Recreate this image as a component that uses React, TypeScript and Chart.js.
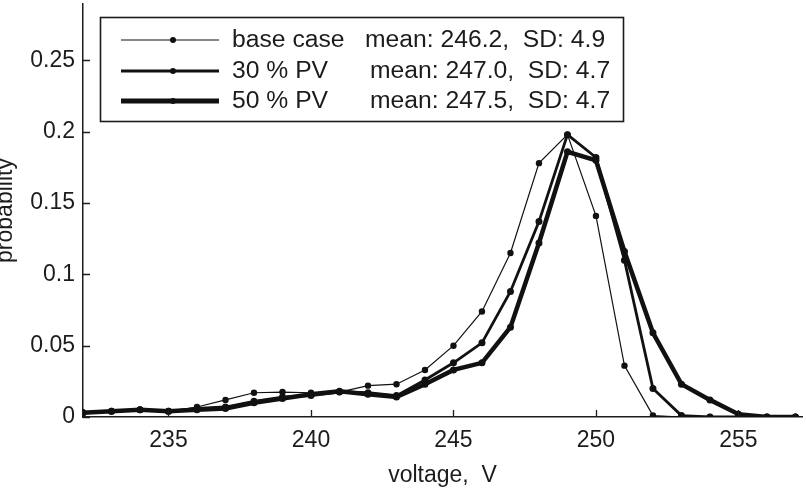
import React, { useEffect, useRef } from 'react';
import { Chart, registerables } from 'chart.js';

Chart.register(...registerables);

// Voltage bins (V)
const voltages = [232, 233, 234, 235, 236, 237, 238, 239, 240, 241, 242, 243, 244, 245, 246, 247, 248, 249, 250, 251, 252, 253, 254, 255, 256, 257];

// Probability per voltage bin
const baseCase = [0.003, 0.004, 0.005, 0.004, 0.007, 0.012, 0.017, 0.0175, 0.017, 0.0175, 0.022, 0.023, 0.033, 0.050, 0.074, 0.115, 0.178, 0.198, 0.141, 0.036, 0.001, 0, 0, 0, 0, 0];
const pv30 = [0.003, 0.004, 0.005, 0.004, 0.006, 0.007, 0.011, 0.014, 0.015, 0.0175, 0.017, 0.015, 0.026, 0.038, 0.052, 0.088, 0.137, 0.198, 0.182, 0.110, 0.020, 0.001, 0, 0, 0, 0];
const pv50 = [0.003, 0.004, 0.005, 0.004, 0.005, 0.006, 0.010, 0.013, 0.016, 0.018, 0.016, 0.014, 0.023, 0.033, 0.038, 0.063, 0.122, 0.186, 0.180, 0.116, 0.059, 0.023, 0.012, 0.002, 0, 0];

const seriesNames = ['base case', '30 % PV', '50 % PV'];
const seriesStats = ['mean: 246.2,  SD: 4.9', 'mean: 247.0,  SD: 4.7', 'mean: 247.5,  SD: 4.7'];

const xTicks = [235, 240, 245, 250, 255];
const yTicks = [0, 0.05, 0.1, 0.15, 0.2, 0.25];

const FONT = "'Liberation Sans', Arial, Helvetica, sans-serif";
const INK = '#1c1c1c';

const lineWidths = [1.2, 2.8, 4.5];
const legendLineWidths = [1.2, 3, 5];
const pointRadii = [3.2, 3.5, 3.5];

// MATLAB-style tick marks that point into the plot area
const inwardTicks = {
  id: 'inwardTicks',
  afterDatasetsDraw(chart: any) {
    const { ctx, chartArea, scales } = chart;
    const len = 7;
    ctx.save();
    ctx.strokeStyle = INK;
    ctx.lineWidth = 1.3;
    ctx.beginPath();
    yTicks.forEach((v) => {
      const y = Math.round(scales.y.getPixelForValue(v)) + 0.5;
      ctx.moveTo(chartArea.left, y);
      ctx.lineTo(chartArea.left + len, y);
    });
    xTicks.forEach((v) => {
      const x = Math.round(scales.x.getPixelForValue(v)) + 0.5;
      ctx.moveTo(x, chartArea.bottom);
      ctx.lineTo(x, chartArea.bottom - len);
    });
    ctx.stroke();
    ctx.restore();
  },
};

// Boxed legend in the upper-left of the axes
const boxLegend = {
  id: 'boxLegend',
  afterDraw(chart: any) {
    const { ctx } = chart;
    const box = { x: 100.5, y: 17.5, w: 523, h: 104 };
    const rows = [40, 71, 101];
    ctx.save();
    ctx.fillStyle = '#ffffff';
    ctx.fillRect(box.x, box.y, box.w, box.h);
    ctx.strokeStyle = INK;
    ctx.lineWidth = 1.6;
    ctx.strokeRect(box.x, box.y, box.w, box.h);
    chart.data.datasets.forEach((ds: any, i: number) => {
      const y = rows[i];
      ctx.strokeStyle = ds.borderColor;
      ctx.lineWidth = legendLineWidths[i];
      ctx.beginPath();
      ctx.moveTo(121, y);
      ctx.lineTo(219, y);
      ctx.stroke();
      ctx.fillStyle = ds.borderColor;
      ctx.beginPath();
      ctx.arc(173, y, 3, 0, Math.PI * 2);
      ctx.fill();
      ctx.fillStyle = INK;
      ctx.font = `24.7px ${FONT}`;
      ctx.textBaseline = 'middle';
      ctx.textAlign = 'left';
      ctx.fillText(seriesNames[i], 232, y);
      ctx.fillText(seriesStats[i], i === 0 ? 365 : 370, y);
    });
    ctx.restore();
  },
};

function toPoints(values: number[]) {
  return voltages.map((v, i) => ({ x: v, y: values[i] }));
}

export default function App() {
  const canvasRef = useRef<HTMLCanvasElement | null>(null);

  useEffect(() => {
    const canvas = canvasRef.current;
    if (!canvas) return;
    const seriesValues = [baseCase, pv30, pv50];
    const chart = new Chart(canvas, {
      type: 'line',
      data: {
        datasets: seriesValues.map((vals, i) => ({
          label: seriesNames[i],
          data: toPoints(vals),
          borderColor: '#111111',
          backgroundColor: '#111111',
          borderWidth: lineWidths[i],
          pointRadius: pointRadii[i],
          pointBorderWidth: 0,
          pointBackgroundColor: '#111111',
          tension: 0,
          fill: false,
        })),
      },
      options: {
        responsive: false,
        animation: false,
        events: [],
        layout: { padding: 0 },
        plugins: {
          legend: { display: false },
          tooltip: { enabled: false },
          title: { display: false },
        },
        scales: {
          x: {
            type: 'linear',
            min: 232,
            max: 257.23,
            afterBuildTicks: (scale: any) => {
              scale.ticks = xTicks.map((v) => ({ value: v }));
            },
            afterFit: (scale: any) => {
              scale.height = 75;
              scale.paddingLeft = 0;
              scale.paddingRight = 0;
            },
            grid: { display: false, drawTicks: false },
            border: { display: true, color: INK, width: 1.5 },
            ticks: {
              color: INK,
              font: { family: FONT, size: 23 },
              padding: 10,
              maxRotation: 0,
              autoSkip: false,
              callback: (v: any) => String(v),
            },
            title: {
              display: true,
              text: 'voltage,  V',
              color: INK,
              font: { family: FONT, size: 23 },
              padding: { top: 0, bottom: 3 },
            },
          },
          y: {
            type: 'linear',
            min: 0,
            max: 0.2896,
            afterBuildTicks: (scale: any) => {
              scale.ticks = yTicks.map((v) => ({ value: v }));
            },
            afterFit: (scale: any) => {
              scale.width = 83;
              scale.paddingTop = 0;
              scale.paddingBottom = 0;
            },
            grid: { display: false, drawTicks: false },
            border: { display: true, color: INK, width: 1.5 },
            ticks: {
              color: INK,
              font: { family: FONT, size: 23 },
              padding: 8,
              autoSkip: false,
              callback: (v: any) => String(v),
            },
            title: {
              display: true,
              text: 'probability',
              color: INK,
              font: { family: FONT, size: 23 },
              padding: { top: -8, bottom: 0 },
            },
          },
        },
      },
      plugins: [inwardTicks, boxLegend],
    });
    return () => chart.destroy();
  }, []);

  return (
    <div style={{ position: 'absolute', left: 0, top: 0, width: 806, height: 492, background: '#fff' }}>
      <canvas ref={canvasRef} width={806} height={492} />
    </div>
  );
}
